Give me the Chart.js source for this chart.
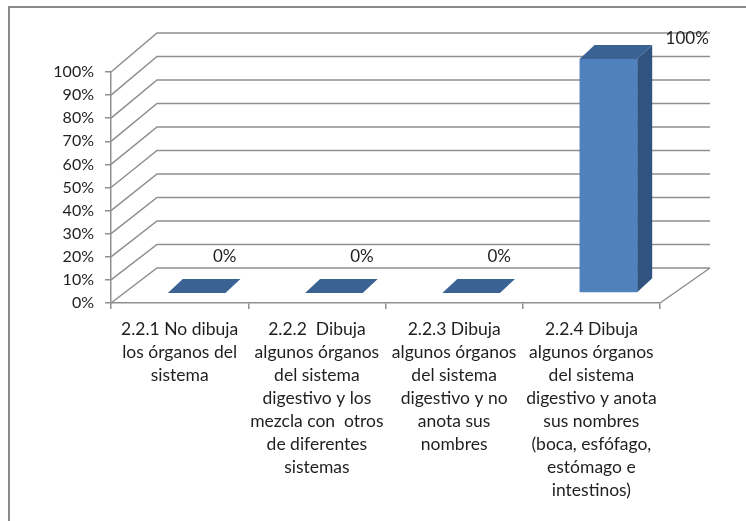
<!DOCTYPE html>
<html lang="es">
<head>
<meta charset="UTF-8">
<title>Órganos del sistema digestivo</title>
<script src="https://cdn.jsdelivr.net/npm/chart.js"></script>
<style>
    body { margin: 0; background: #ffffff; }
    #wrap { position: relative; width: 746px; height: 521px; }
</style>
</head>
<body>
<div id="wrap"><canvas id="chartCanvas" width="746" height="521"></canvas></div>
<script>
    // categories (pre-wrapped the way they show under the axis)
    const categories = [
        ['2.2.1 No dibuja', 'los órganos del', 'sistema'],
        ['2.2.2  Dibuja', 'algunos órganos', 'del sistema', 'digestivo y los', 'mezcla con  otros', 'de diferentes', 'sistemas'],
        ['2.2.3 Dibuja', 'algunos órganos', 'del sistema', 'digestivo y no', 'anota sus', 'nombres'],
        ['2.2.4 Dibuja', 'algunos órganos', 'del sistema', 'digestivo y anota', 'sus nombres', '(boca, esfófago,', 'estómago e', 'intestinos)']
    ];
    const percentages = [0, 0, 0, 100];
    const yTicks = [0, 10, 20, 30, 40, 50, 60, 70, 80, 90, 100];

    const FONT = 'Lato, "Noto Sans", sans-serif';
    const TEXT = '#1f1f1f';
    const GRID = '#8f8f8f';

    // fake 3d: back wall offset and bar depth
    const WALL_DX_L = 46, WALL_DX_R = 50, WALL_DY_BOT = 35, WALL_DY_TOP = 39;
    const BAR_FX = 17, BAR_FY = -10, BAR_DX = 15, BAR_DY = -14;

    function backY(area, fy) {
        const t = (area.bottom - fy) / (area.bottom - area.top);
        return fy - WALL_DY_BOT - t * (WALL_DY_TOP - WALL_DY_BOT);
    }

    const frame = {
        id: 'frame',
        beforeDraw(chart) {
            const ctx = chart.ctx;
            ctx.save();
            ctx.strokeStyle = '#8a8a8a';
            ctx.lineWidth = 2;
            ctx.beginPath();
            ctx.moveTo(9, chart.height + 2);
            ctx.lineTo(9, 7);
            ctx.lineTo(chart.width + 2, 7);
            ctx.stroke();
            ctx.restore();
        }
    };

    const walls = {
        id: 'walls',
        beforeDatasetsDraw(chart) {
            const { ctx, chartArea: area, scales: { y } } = chart;
            ctx.save();
            ctx.strokeStyle = GRID;
            ctx.lineWidth = 1.5;
            ctx.beginPath();
            y.ticks.forEach(t => {
                const fy = y.getPixelForValue(t.value);
                const by = backY(area, fy);
                ctx.moveTo(area.left, fy);
                ctx.lineTo(area.left + WALL_DX_L, by);
                ctx.lineTo(area.right + WALL_DX_R, by);
            });
            // right edge of the floor
            ctx.moveTo(area.right, area.bottom);
            ctx.lineTo(area.right + WALL_DX_R, backY(area, area.bottom));
            ctx.stroke();
            ctx.restore();
        }
    };

    const bars3d = {
        id: 'bars3d',
        afterDatasetsDraw(chart) {
            const { ctx, chartArea: area } = chart;
            const meta = chart.getDatasetMeta(0);
            ctx.save();
            meta.data.forEach((bar, i) => {
                const { x, y, base, width } = bar.getProps(['x', 'y', 'base', 'width'], true);
                const x0 = x - width / 2 + BAR_FX, x1 = x + width / 2 + BAR_FX;
                const yBot = base + BAR_FY;
                const yTop = yBot - (base - y) * 1.013;

                // side
                ctx.fillStyle = '#30537f';
                ctx.beginPath();
                ctx.moveTo(x1, yBot);
                ctx.lineTo(x1 + BAR_DX, yBot + BAR_DY);
                ctx.lineTo(x1 + BAR_DX, yTop + BAR_DY);
                ctx.lineTo(x1, yTop);
                ctx.closePath();
                ctx.fill();

                // front
                ctx.fillStyle = '#4f81bd';
                ctx.fillRect(x0, yTop, x1 - x0, yBot - yTop);

                // top
                ctx.fillStyle = '#3a6394';
                ctx.beginPath();
                ctx.moveTo(x0, yTop);
                ctx.lineTo(x1, yTop);
                ctx.lineTo(x1 + BAR_DX, yTop + BAR_DY);
                ctx.lineTo(x0 + BAR_DX, yTop + BAR_DY);
                ctx.closePath();
                ctx.fill();

                // value label
                let lx = (x0 + x1) / 2 + 28;
                let ly = yTop - 36;
                if (ly < area.top - 30) {
                    lx = x1 + BAR_DX + 35;
                    ly = yTop + BAR_DY - 6;
                }
                ctx.fillStyle = TEXT;
                ctx.font = '17px ' + FONT;
                ctx.textAlign = 'center';
                ctx.textBaseline = 'middle';
                ctx.fillText(percentages[i] + '%', lx, ly);
            });
            ctx.restore();
        }
    };

    new Chart(document.getElementById('chartCanvas'), {
        type: 'bar',
        data: {
            labels: categories,
            datasets: [{
                data: percentages,
                backgroundColor: 'rgba(0,0,0,0)',
                borderWidth: 0,
                categoryPercentage: 1,
                barPercentage: 0.42
            }]
        },
        options: {
            responsive: false,
            animation: false,
            events: [],
            layout: { padding: { left: 0, top: 72, right: 86, bottom: 0 } },
            plugins: { legend: { display: false }, tooltip: { enabled: false } },
            scales: {
                x: {
                    afterFit(s) { s.height = 218; },
                    grid: { drawOnChartArea: false, tickLength: 6, color: GRID, lineWidth: 1.5, offset: true },
                    border: { color: GRID, width: 1.5 },
                    ticks: {
                        color: TEXT, maxRotation: 0, autoSkip: false, padding: 9,
                        font: { family: FONT, size: 17.5, lineHeight: 1.31 }
                    }
                },
                y: {
                    min: 0, max: 100,
                    afterFit(s) { s.width = 111; },
                    afterBuildTicks(s) { s.ticks = yTicks.map(v => ({ value: v })); },
                    grid: { drawOnChartArea: false, tickLength: 6, color: GRID, lineWidth: 1.5 },
                    border: { color: GRID, width: 1.5 },
                    ticks: {
                        color: TEXT, padding: 11,
                        font: { family: FONT, size: 16 },
                        callback: v => v + '%'
                    }
                }
            }
        },
        plugins: [frame, walls, bars3d]
    });
</script>
</body>
</html>
